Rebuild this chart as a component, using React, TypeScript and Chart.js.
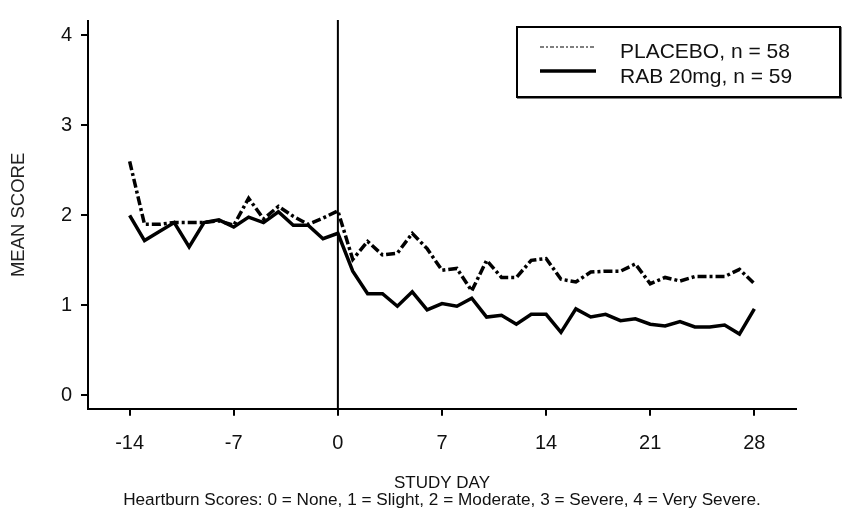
import React, { useEffect, useRef } from 'react';
import { Chart, registerables } from 'chart.js';

Chart.register(...registerables);

// ---- data ----
const days = [
  -14, -13, -12, -11, -10, -9, -8, -7, -6, -5, -4, -3, -2, -1, 0,
  1, 2, 3, 4, 5, 6, 7, 8, 9, 10, 11, 12, 13, 14,
  15, 16, 17, 18, 19, 20, 21, 22, 23, 24, 25, 26, 27, 28,
];
const placebo = [
  2.6, 1.9, 1.9, 1.92, 1.92, 1.92, 1.94, 1.89, 2.19, 1.96, 2.1, 1.99, 1.9, 1.97, 2.05,
  1.51, 1.71, 1.56, 1.58, 1.8, 1.63, 1.39, 1.41, 1.16, 1.5, 1.31, 1.31, 1.5, 1.52,
  1.29, 1.26, 1.37, 1.38, 1.38, 1.46, 1.24, 1.31, 1.27, 1.32, 1.32, 1.32, 1.4, 1.24,
];
const rab = [
  2.0, 1.72, 1.82, 1.92, 1.65, 1.92, 1.95, 1.87, 1.98, 1.92, 2.04, 1.89, 1.89, 1.74, 1.8,
  1.38, 1.13, 1.13, 0.99, 1.15, 0.95, 1.02, 0.99, 1.08, 0.87, 0.89, 0.79, 0.9, 0.9,
  0.7, 0.96, 0.87, 0.9, 0.83, 0.85, 0.79, 0.77, 0.82, 0.76, 0.76, 0.78, 0.68, 0.96,
];
const seriesLabels = ['PLACEBO, n = 58', 'RAB 20mg, n = 59'];
const xTickValues = [-14, -7, 0, 7, 14, 21, 28];
const yTickValues = [0, 1, 2, 3, 4];
const xTitle = 'STUDY DAY';
const yTitle = 'MEAN SCORE';
const footnote =
  'Heartburn Scores: 0 = None, 1 = Slight, 2 = Moderate, 3 = Severe, 4 = Very Severe.';
const baselineDay = 0;

const FONT = "'Liberation Sans', Arial, Helvetica, sans-serif";
const PLACEBO_DASH = [9, 3, 3, 3];

const baselinePlugin = {
  id: 'baselineDay',
  beforeDatasetsDraw(chart: any) {
    const { ctx, chartArea, scales } = chart;
    const x = scales.x.getPixelForValue(baselineDay);
    ctx.save();
    ctx.strokeStyle = '#000';
    ctx.lineWidth = 2;
    ctx.beginPath();
    ctx.moveTo(x, chartArea.top - 1);
    ctx.lineTo(x, chartArea.bottom);
    ctx.stroke();
    ctx.restore();
  },
};

const legendBoxPlugin = {
  id: 'legendBox',
  afterDraw(chart: any) {
    const { ctx } = chart;
    const ds = chart.data.datasets;
    ctx.save();
    // frame with a slight drop shadow
    ctx.strokeStyle = '#000';
    ctx.lineWidth = 2;
    ctx.strokeRect(517, 27, 323, 70);
    ctx.fillStyle = '#000';
    ctx.fillRect(517, 97, 325, 1.5);
    ctx.fillRect(840, 27, 1.5, 71);
    // samples
    const rows = [
      { lineY: 47, textY: 52, width: 1.2, dash: [4, 2, 2, 2] },
      { lineY: 71, textY: 77, width: 3.5, dash: [] as number[] },
    ];
    rows.forEach((r, i) => {
      ctx.beginPath();
      ctx.setLineDash(r.dash);
      ctx.lineWidth = r.width;
      ctx.strokeStyle = '#000';
      ctx.moveTo(540, r.lineY);
      ctx.lineTo(596, r.lineY);
      ctx.stroke();
      ctx.setLineDash([]);
      ctx.fillStyle = '#111';
      ctx.font = `21px ${FONT}`;
      ctx.textBaseline = 'middle';
      ctx.textAlign = 'left';
      ctx.fillText(ds[i].label, 620, r.textY);
    });
    ctx.restore();
  },
};

export default function App() {
  const canvasRef = useRef<HTMLCanvasElement | null>(null);

  useEffect(() => {
    document.body.style.margin = '0';
    const canvas = canvasRef.current;
    if (!canvas) return;
    const chart = new Chart(canvas, {
      type: 'line',
      data: {
        datasets: [
          {
            label: seriesLabels[0],
            data: days.map((d, i) => ({ x: d, y: placebo[i] })),
            borderColor: '#000',
            borderWidth: 3.5,
            borderDash: PLACEBO_DASH,
            pointRadius: 0,
            tension: 0,
            fill: false,
          },
          {
            label: seriesLabels[1],
            data: days.map((d, i) => ({ x: d, y: rab[i] })),
            borderColor: '#000',
            borderWidth: 3.5,
            pointRadius: 0,
            tension: 0,
            fill: false,
          },
        ],
      },
      options: {
        animation: false,
        responsive: true,
        maintainAspectRatio: false,
        layout: { padding: { top: 11, right: 47, bottom: 0, left: 0 } },
        plugins: {
          legend: { display: false },
          tooltip: { enabled: false },
          title: { display: false },
          subtitle: {
            display: true,
            text: footnote,
            position: 'bottom',
            fullSize: false,
            color: '#111',
            font: { family: FONT, size: 17.2, weight: 'normal', lineHeight: 1 },
            padding: { top: 0, bottom: 10 },
          },
        },
        scales: {
          x: {
            type: 'linear',
            min: -16.8,
            max: 30.8,
            afterBuildTicks: (s: any) => {
              s.ticks = xTickValues.map((v) => ({ value: v }));
            },
            afterFit: (s: any) => {
              s.height = 83;
            },
            border: { display: true, color: '#000', width: 2 },
            grid: { drawOnChartArea: false, drawTicks: true, tickLength: 7, color: '#000', lineWidth: 2 },
            ticks: {
              color: '#111',
              font: { family: FONT, size: 20 },
              padding: 16,
              maxRotation: 0,
              autoSkip: false,
            },
            title: {
              display: true,
              text: xTitle,
              color: '#111',
              font: { family: FONT, size: 17, lineHeight: 1 },
              padding: { top: 0, bottom: 0 },
            },
          },
          y: {
            type: 'linear',
            min: -0.15,
            max: 4.16,
            afterBuildTicks: (s: any) => {
              s.ticks = yTickValues.map((v) => ({ value: v }));
            },
            afterFit: (s: any) => {
              s.width = 88;
            },
            border: { display: true, color: '#000', width: 2 },
            grid: { drawOnChartArea: false, drawTicks: true, tickLength: 7, color: '#000', lineWidth: 2 },
            ticks: {
              color: '#111',
              font: { family: FONT, size: 20 },
              padding: 9,
              autoSkip: false,
            },
            title: {
              display: true,
              text: yTitle,
              color: '#222',
              font: { family: FONT, size: 18.5, lineHeight: 1.2 },
              padding: { top: 8, bottom: 0 },
            },
          },
        },
      } as any,
      plugins: [baselinePlugin, legendBoxPlugin],
    });
    return () => chart.destroy();
  }, []);

  return (
    <div style={{ position: 'relative', width: 843, height: 519 }}>
      <canvas ref={canvasRef} />
    </div>
  );
}
